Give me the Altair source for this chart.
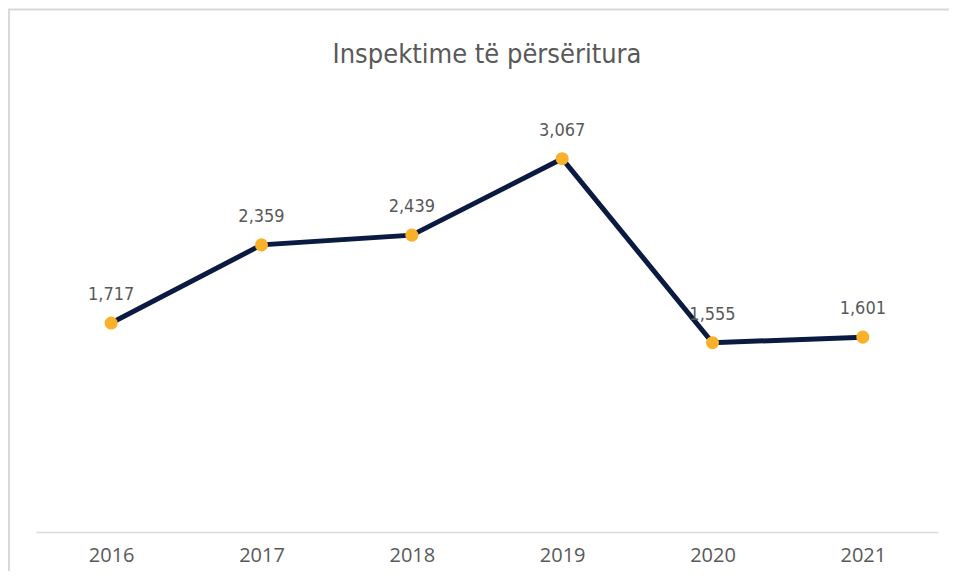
import altair as alt
import pandas as pd

years = ["2016", "2017", "2018", "2019", "2020", "2021"]
values = [1717, 2359, 2439, 3067, 1555, 1601]
labels = ["1,717", "2,359", "2,439", "3,067", "1,555", "1,601"]

df = pd.DataFrame({"year": years, "value": values, "label": labels})

W, H = 902, 426
NARROW = "DejaVu Sans Condensed, Liberation Sans Narrow, Arial Narrow, Roboto, sans-serif"

x = alt.X("year:N", sort=years, title=None,
          scale=alt.Scale(paddingInner=0, paddingOuter=0),
          axis=alt.Axis(labelAngle=0, ticks=False, domain=True, domainColor="#d9d9d9",
                        domainWidth=1.5, labelFont="Open Sans", labelFontSize=20,
                        labelColor="#595959", labelPadding=13, grid=False))
y = alt.Y("value:Q", scale=alt.Scale(domain=[0, 3500]), axis=None)

base = alt.Chart(df).encode(x=x, y=y)

line = base.mark_line(color="#0a1a40", strokeWidth=5)
pts = base.mark_circle(color="#f9b12a", size=170, opacity=1)
txt = base.mark_text(font=NARROW, fontSize=18, color="#595959",
                     baseline="alphabetic", dy=-23).encode(text="label:N")

border_df = pd.DataFrame({"k": [0]})
top_border = alt.Chart(border_df).mark_rule(color="#d9d9d9", strokeWidth=2).encode(
    x=alt.value(-28), x2=alt.value(W + 11), y=alt.value(-96.5))
left_border = alt.Chart(border_df).mark_rule(color="#d9d9d9", strokeWidth=2).encode(
    x=alt.value(-27), y=alt.value(-96.5), y2=alt.value(H + 39))

title_df = pd.DataFrame({"t": ["Inspektime të përsëritura"]})
title = alt.Chart(title_df).mark_text(font=NARROW, fontSize=27,
                                      color="#595959", baseline="middle").encode(
    text="t:N", x=alt.value(487 - 36), y=alt.value(55 - 106))

chart = alt.layer(top_border, left_border, line, pts, txt, title).properties(
    width=W, height=H,
    padding={"left": 28, "top": 98, "right": 11, "bottom": 39},
    autosize=alt.AutoSizeParams(type="none"),
).configure_view(stroke=None)

chart.save("out.html", embed_options={"renderer": "svg", "actions": False})
